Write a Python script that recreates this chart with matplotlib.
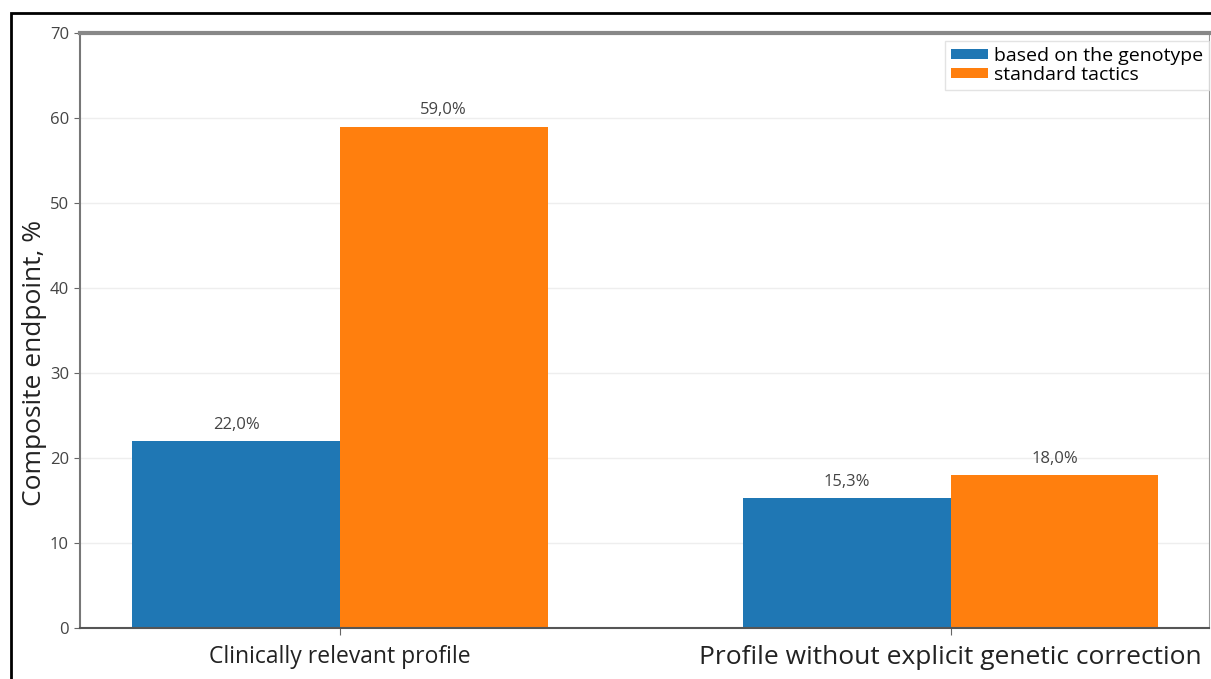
import numpy as np
import matplotlib.pyplot as plt
from matplotlib.patches import Rectangle

plt.rcParams['font.family'] = ['Open Sans', 'DejaVu Sans']

groups = ['Clinically relevant profile', 'Profile without explicit genetic correction']
series = ['based on the genotype', 'standard tactics']
genotype = [22.0, 15.3]
standard = [59.0, 18.0]
colors = ['#1f77b4', '#ff7f0e']

fig = plt.figure(figsize=(12.11, 6.79), dpi=100)
ax = fig.add_axes([0.0661, 0.0751, 0.932, 0.8763])

x = np.arange(len(groups))
w = 0.34
b1 = ax.bar(x - w / 2, genotype, w, color=colors[0], label=series[0], zorder=2)
b2 = ax.bar(x + w / 2, standard, w, color=colors[1], label=series[1], zorder=2)

for bars in (b1, b2):
    for r in bars:
        h = r.get_height()
        ax.annotate(f'{h:.1f}%'.replace('.', ','), (r.get_x() + r.get_width() / 2, h),
                    xytext=(0, 6), textcoords='offset points', ha='center', va='bottom',
                    fontsize=12, color='#444444')

ax.set_xlim(-0.4255, 1.4222)
ax.set_ylim(0, 70)
ax.set_yticks(range(0, 71, 10))
ax.set_xticks(x)
ax.set_xticklabels(groups, color='#222222')
for lab, fs in zip(ax.get_xticklabels(), [16.5, 19]):
    lab.set_fontsize(fs)
ax.tick_params(axis='y', labelsize=12, labelcolor='#444444', color='#666666', length=4, pad=4)
ax.tick_params(axis='x', color='#666666', length=5, pad=7)
ax.set_ylabel('Composite endpoint, %', fontsize=19, color='#222222')
ax.yaxis.set_label_coords(-0.029, 0.445)
ax.yaxis.grid(True, color='#eeeeee', lw=1, zorder=0)

ax.spines['top'].set_color('#888888')
ax.spines['top'].set_linewidth(3)
ax.spines['left'].set_color('#777777')
ax.spines['left'].set_linewidth(1.5)
ax.spines['bottom'].set_color('#555555')
ax.spines['bottom'].set_linewidth(1.5)
ax.spines['right'].set_color('#999999')

leg = fig.legend(loc='upper left', bbox_to_anchor=(945 / 1211, 1 - 41 / 679),
                 fontsize=14, frameon=True, fancybox=False, edgecolor='#dddddd',
                 handlelength=1.9, handleheight=0.4, handletextpad=0.3,
                 borderpad=0.3, labelspacing=0.05, borderaxespad=0)

# outer frame of the figure
fig.patches.append(Rectangle((11 / 1211, -0.1), 1.2, 1 - 13 / 679 + 0.1,
                             transform=fig.transFigure, fill=False,
                             edgecolor='black', lw=2, zorder=10))

fig.savefig('out.png', dpi=100)
